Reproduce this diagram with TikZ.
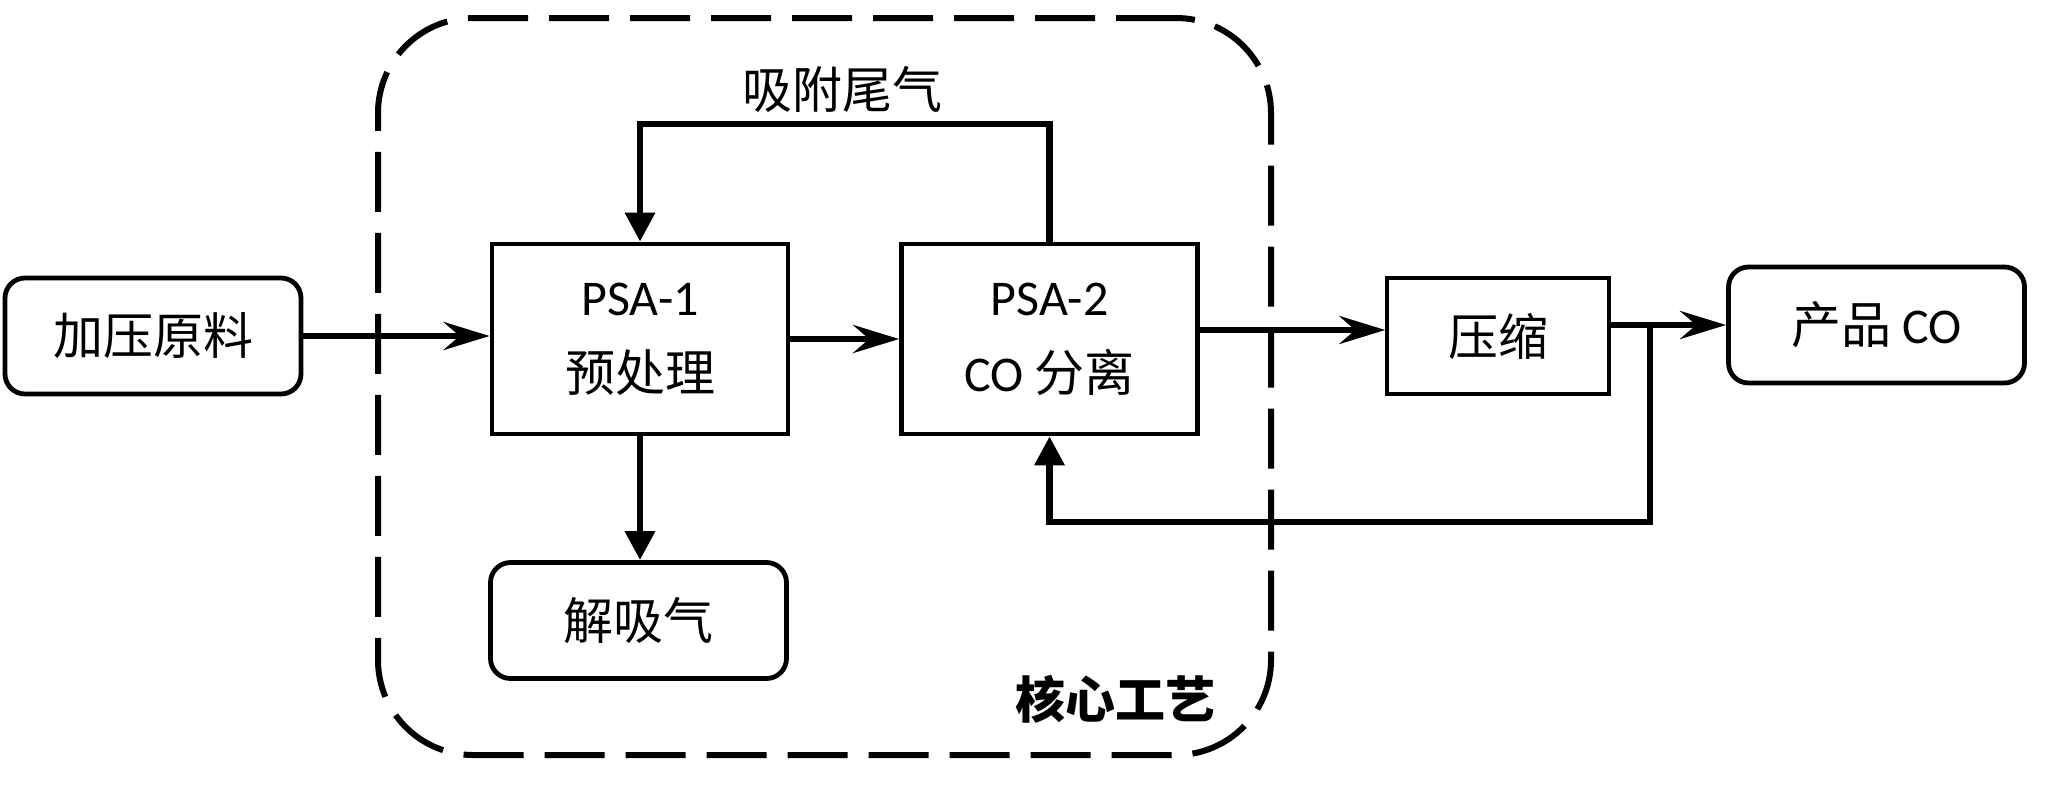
\documentclass[tikz,border=0pt]{standalone}
\usepackage{fontspec}
\setmainfont{Carlito}
\newfontfamily\cjk{Noto Sans CJK SC}
\usetikzlibrary{arrows.meta}
\begin{document}
\begin{tikzpicture}[x=0.5pt,y=-0.5pt,
  txt/.style={font=\fontsize{25}{38}\selectfont},
  box/.style={draw, line width=2.4pt, minimum width=148pt, minimum height=95pt, inner sep=0pt, align=center, txt},
  rbox/.style={draw, line width=2.4pt, rounded corners=10pt, minimum width=148pt, minimum height=58pt, inner sep=0pt, txt},
  sbox/.style={draw, line width=1.75pt, minimum width=111pt, minimum height=58pt, inner sep=0pt, txt},
  flow/.style={line width=3.25pt, -{Stealth[length=23pt,width=14pt,inset=8pt]}},
  flowv/.style={line width=3.25pt, -{Triangle[length=14.5pt,width=14.5pt]}},
  corebox/.style={draw, line width=3pt, dash pattern=on 30pt off 10.5pt, rounded corners=47.5pt, minimum width=446.5pt, minimum height=368.5pt, inner sep=0pt},
]
\useasboundingbox (0,0) rectangle (2048,809);

\node[corebox] (core) at (824.5,386.5) {};

\node[rbox] (feed) at (153,336) {\cjk 加压原料};
\node[box] (psa1) at (640,339) {PSA-1\\{\cjk 预处理}};
\node[box] (psa2) at (1049.5,339) {PSA-2\\CO {\cjk 分离}};
\node[sbox] (comp) at (1498,336) {\cjk 压缩};
\node[rbox] (prod) at (1876.5,325) {{\cjk 产品} CO};
\node[rbox] (des) at (638.5,620.5) {\cjk 解吸气};

\node[txt] (tail) at (842,89) {\cjk 吸附尾气};
\node[txt] (corelabel) at (1115,699) {\cjk\bfseries 核心工艺};

\coordinate (top) at (0,124);
\coordinate (jn) at (1650,325);
\coordinate (rb) at (1650,522);

\draw[flow] (feed.east) -- (feed.east -| psa1.west);
\draw[flow] (psa1.east) -- (psa2.west);
\draw[flow] ([yshift=4.5pt]psa2.east) -- ([yshift=4.5pt]psa2.east -| comp.west);
\draw[flow] (comp.east |- prod.west) -- (prod.west);
\draw[flowv] (jn) -- (rb) -| (psa2.south);
\draw[flowv] (psa2.north) -- (psa2.north |- top) -| (psa1.north);
\draw[flowv] (psa1.south) -- (psa1.south |- des.north);
\end{tikzpicture}
\end{document}
